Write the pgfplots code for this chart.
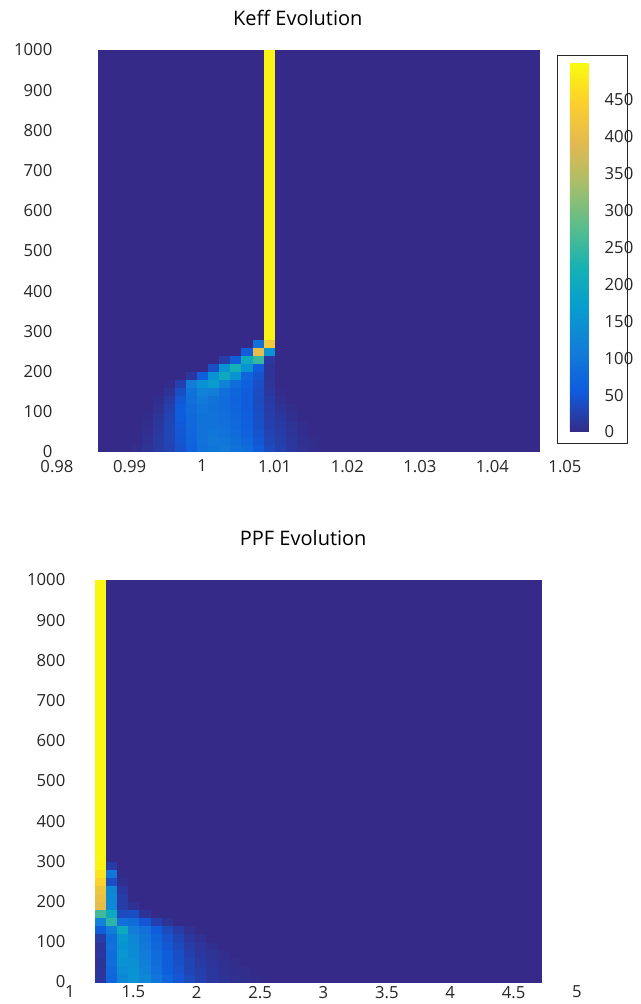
\documentclass[border=0pt]{standalone}
\usepackage{fontspec}
\setmainfont{Open Sans}
\usepackage{pgfplots}
\pgfplotsset{compat=1.18}
\definecolor{ticktext}{RGB}{38,38,38}
\pgfplotsset{
  colormap={parula}{rgb255=(53,42,135) rgb255=(15,92,221) rgb255=(18,125,216)
    rgb255=(7,156,207) rgb255=(21,177,180) rgb255=(89,189,140)
    rgb255=(165,190,107) rgb255=(225,185,82) rgb255=(252,206,46)
    rgb255=(249,251,14)},
  heat/.style={
    scale only axis, anchor=south west,
    height=301.5pt, ymin=0, ymax=1000, ytick={0,100,...,1000},
    axis line style={draw=none}, major tick length=0pt,
    tick label style={font=\fontsize{12.5}{13}\selectfont, text=ticktext},
    /pgf/number format/assume math mode=true,
    /pgf/number format/1000 sep={},
    title style={font=\fontsize{15}{17}\selectfont, anchor=center},
    colormap name=parula, point meta min=0, point meta max=500,
  },
}
\begin{document}
\begin{tikzpicture}
\useasboundingbox (0,0) rectangle (480.75pt,753pt);

% Keff: lattice of cell edges, value at lower-left corner of each cell
\begin{axis}[heat,
  at={(42.75pt,414pt)}, width=381pt,
  xmin=0.98, xmax=1.05,
  xtick={0.98,0.99,1,1.01,1.02,1.03,1.04,1.05},
  xticklabels={0.98,0.99,1,1.01,1.02,1.03,1.04,1.05},
  xticklabel style={yshift=-2.5pt},
  title={Keff Evolution}, title style={at={(0.474,1)}, yshift=18pt},
  colorbar,
  colorbar style={
    at={(parent axis.north east)}, anchor=north west,
    xshift=-4.8pt, yshift=-9.75pt,
    scale only axis, width=22.5pt, height=276.75pt,
    ytick={0,50,...,450}, axis line style={draw=none}, major tick length=0pt,
    /pgf/number format/assume math mode=true,
    yticklabel style={font=\fontsize{12.5}{13}\selectfont, text=ticktext},
  },
]
\addplot[surf, shader=flat corner, point meta=explicit, mesh/cols=21] coordinates {
(0.9857,0)[0] (0.99026,0)[3] (0.99178,0)[10] (0.9933,0)[18] (0.99482,0)[28] (0.99634,0)[45] (0.99786,0)[65] (0.99938,0)[90] (1.0009,0)[100] (1.00242,0)[105] (1.00394,0)[95] (1.00546,0)[80] (1.00698,0)[55] (1.0085,0)[35] (1.01002,0)[25] (1.01154,0)[15] (1.01306,0)[8] (1.01458,0)[4] (1.0161,0)[0] (1.01762,0)[0] (1.0465,0)[0]
(0.9857,20)[0] (0.99026,20)[0] (0.99178,20)[8] (0.9933,20)[18] (0.99482,20)[30] (0.99634,20)[48] (0.99786,20)[70] (0.99938,20)[95] (1.0009,20)[105] (1.00242,20)[100] (1.00394,20)[88] (1.00546,20)[72] (1.00698,20)[50] (1.0085,20)[30] (1.01002,20)[22] (1.01154,20)[14] (1.01306,20)[6] (1.01458,20)[3] (1.0161,20)[0] (1.01762,20)[0] (1.0465,20)[0]
(0.9857,40)[0] (0.99026,40)[0] (0.99178,40)[6] (0.9933,40)[16] (0.99482,40)[30] (0.99634,40)[50] (0.99786,40)[72] (0.99938,40)[95] (1.0009,40)[100] (1.00242,40)[95] (1.00394,40)[82] (1.00546,40)[66] (1.00698,40)[45] (1.0085,40)[28] (1.01002,40)[20] (1.01154,40)[12] (1.01306,40)[5] (1.01458,40)[0] (1.0161,40)[0] (1.01762,40)[0] (1.0465,40)[0]
(0.9857,60)[0] (0.99026,60)[0] (0.99178,60)[4] (0.9933,60)[14] (0.99482,60)[30] (0.99634,60)[52] (0.99786,60)[75] (0.99938,60)[92] (1.0009,60)[95] (1.00242,60)[90] (1.00394,60)[78] (1.00546,60)[62] (1.00698,60)[42] (1.0085,60)[25] (1.01002,60)[18] (1.01154,60)[10] (1.01306,60)[3] (1.01458,60)[0] (1.0161,60)[0] (1.01762,60)[0] (1.0465,60)[0]
(0.9857,80)[0] (0.99026,80)[0] (0.99178,80)[2] (0.9933,80)[12] (0.99482,80)[28] (0.99634,80)[55] (0.99786,80)[78] (0.99938,80)[95] (1.0009,80)[92] (1.00242,80)[86] (1.00394,80)[74] (1.00546,80)[60] (1.00698,80)[40] (1.0085,80)[22] (1.01002,80)[15] (1.01154,80)[6] (1.01306,80)[0] (1.01458,80)[0] (1.0161,80)[0] (1.01762,80)[0] (1.0465,80)[0]
(0.9857,100)[0] (0.99026,100)[0] (0.99178,100)[0] (0.9933,100)[8] (0.99482,100)[24] (0.99634,100)[55] (0.99786,100)[82] (0.99938,100)[98] (1.0009,100)[90] (1.00242,100)[82] (1.00394,100)[70] (1.00546,100)[56] (1.00698,100)[38] (1.0085,100)[20] (1.01002,100)[10] (1.01154,100)[3] (1.01306,100)[0] (1.01458,100)[0] (1.0161,100)[0] (1.01762,100)[0] (1.0465,100)[0]
(0.9857,120)[0] (0.99026,120)[0] (0.99178,120)[0] (0.9933,120)[4] (0.99482,120)[18] (0.99634,120)[50] (0.99786,120)[88] (0.99938,120)[108] (1.0009,120)[95] (1.00242,120)[82] (1.00394,120)[68] (1.00546,120)[56] (1.00698,120)[36] (1.0085,120)[18] (1.01002,120)[6] (1.01154,120)[0] (1.01306,120)[0] (1.01458,120)[0] (1.0161,120)[0] (1.01762,120)[0] (1.0465,120)[0]
(0.9857,140)[0] (0.99026,140)[0] (0.99178,140)[0] (0.9933,140)[0] (0.99482,140)[10] (0.99634,140)[40] (0.99786,140)[95] (0.99938,140)[120] (1.0009,140)[112] (1.00242,140)[88] (1.00394,140)[70] (1.00546,140)[56] (1.00698,140)[38] (1.0085,140)[15] (1.01002,140)[2] (1.01154,140)[0] (1.01306,140)[0] (1.01458,140)[0] (1.0161,140)[0] (1.01762,140)[0] (1.0465,140)[0]
(0.9857,160)[0] (0.99026,160)[0] (0.99178,160)[0] (0.9933,160)[0] (0.99482,160)[2] (0.99634,160)[25] (0.99786,160)[110] (0.99938,160)[150] (1.0009,160)[170] (1.00242,160)[120] (1.00394,160)[85] (1.00546,160)[62] (1.00698,160)[40] (1.0085,160)[12] (1.01002,160)[0] (1.01154,160)[0] (1.01306,160)[0] (1.01458,160)[0] (1.0161,160)[0] (1.01762,160)[0] (1.0465,160)[0]
(0.9857,180)[0] (0.99026,180)[0] (0.99178,180)[0] (0.9933,180)[0] (0.99482,180)[0] (0.99634,180)[0] (0.99786,180)[15] (0.99938,180)[60] (1.0009,180)[150] (1.00242,180)[200] (1.00394,180)[150] (1.00546,180)[70] (1.00698,180)[45] (1.0085,180)[10] (1.01002,180)[0] (1.01154,180)[0] (1.01306,180)[0] (1.01458,180)[0] (1.0161,180)[0] (1.01762,180)[0] (1.0465,180)[0]
(0.9857,200)[0] (0.99026,200)[0] (0.99178,200)[0] (0.9933,200)[0] (0.99482,200)[0] (0.99634,200)[0] (0.99786,200)[0] (0.99938,200)[0] (1.0009,200)[40] (1.00242,200)[150] (1.00394,200)[220] (1.00546,200)[150] (1.00698,200)[55] (1.0085,200)[10] (1.01002,200)[0] (1.01154,200)[0] (1.01306,200)[0] (1.01458,200)[0] (1.0161,200)[0] (1.01762,200)[0] (1.0465,200)[0]
(0.9857,220)[0] (0.99026,220)[0] (0.99178,220)[0] (0.9933,220)[0] (0.99482,220)[0] (0.99634,220)[0] (0.99786,220)[0] (0.99938,220)[0] (1.0009,220)[0] (1.00242,220)[20] (1.00394,220)[60] (1.00546,220)[200] (1.00698,220)[250] (1.0085,220)[15] (1.01002,220)[0] (1.01154,220)[0] (1.01306,220)[0] (1.01458,220)[0] (1.0161,220)[0] (1.01762,220)[0] (1.0465,220)[0]
(0.9857,240)[0] (0.99026,240)[0] (0.99178,240)[0] (0.9933,240)[0] (0.99482,240)[0] (0.99634,240)[0] (0.99786,240)[0] (0.99938,240)[0] (1.0009,240)[0] (1.00242,240)[0] (1.00394,240)[0] (1.00546,240)[60] (1.00698,240)[400] (1.0085,240)[150] (1.01002,240)[0] (1.01154,240)[0] (1.01306,240)[0] (1.01458,240)[0] (1.0161,240)[0] (1.01762,240)[0] (1.0465,240)[0]
(0.9857,260)[0] (0.99026,260)[0] (0.99178,260)[0] (0.9933,260)[0] (0.99482,260)[0] (0.99634,260)[0] (0.99786,260)[0] (0.99938,260)[0] (1.0009,260)[0] (1.00242,260)[0] (1.00394,260)[0] (1.00546,260)[0] (1.00698,260)[90] (1.0085,260)[430] (1.01002,260)[0] (1.01154,260)[0] (1.01306,260)[0] (1.01458,260)[0] (1.0161,260)[0] (1.01762,260)[0] (1.0465,260)[0]
(0.9857,280)[0] (0.99026,280)[0] (0.99178,280)[0] (0.9933,280)[0] (0.99482,280)[0] (0.99634,280)[0] (0.99786,280)[0] (0.99938,280)[0] (1.0009,280)[0] (1.00242,280)[0] (1.00394,280)[0] (1.00546,280)[0] (1.00698,280)[0] (1.0085,280)[490] (1.01002,280)[0] (1.01154,280)[0] (1.01306,280)[0] (1.01458,280)[0] (1.0161,280)[0] (1.01762,280)[0] (1.0465,280)[0]
(0.9857,1000)[0] (0.99026,1000)[0] (0.99178,1000)[0] (0.9933,1000)[0] (0.99482,1000)[0] (0.99634,1000)[0] (0.99786,1000)[0] (0.99938,1000)[0] (1.0009,1000)[0] (1.00242,1000)[0] (1.00394,1000)[0] (1.00546,1000)[0] (1.00698,1000)[0] (1.0085,1000)[0] (1.01002,1000)[0] (1.01154,1000)[0] (1.01306,1000)[0] (1.01458,1000)[0] (1.0161,1000)[0] (1.01762,1000)[0] (1.0465,1000)[0]
};
\end{axis}
\draw[black!85, line width=0.6pt] (417.75pt,420.75pt) rectangle (470.25pt,711.75pt);

% PPF
\begin{axis}[heat,
  at={(52.5pt,16.5pt)}, width=380.25pt,
  xmin=1, xmax=5,
  xtick={1,1.5,2,2.5,3,3.5,4,4.5,5},
  xticklabels={1,1.5,2,2.5,3,3.5,4,4.5,5},
  xticklabel style={yshift=0.5pt},
  title={PPF Evolution}, title style={at={(0.46,1)}, yshift=25.5pt},
]
\addplot[surf, shader=flat corner, point meta=explicit, mesh/cols=17] coordinates {
(1.197,0)[15] (1.2851,0)[70] (1.3732,0)[130] (1.4613,0)[150] (1.5494,0)[130] (1.6375,0)[100] (1.7256,0)[70] (1.8137,0)[50] (1.9018,0)[35] (1.9899,0)[25] (2.078,0)[15] (2.1661,0)[10] (2.2542,0)[6] (2.3423,0)[4] (2.4304,0)[2] (2.5185,0)[0] (4.721,0)[0]
(1.197,20)[12] (1.2851,20)[75] (1.3732,20)[140] (1.4613,20)[150] (1.5494,20)[120] (1.6375,20)[90] (1.7256,20)[60] (1.8137,20)[45] (1.9018,20)[30] (1.9899,20)[22] (2.078,20)[14] (2.1661,20)[8] (2.2542,20)[5] (2.3423,20)[3] (2.4304,20)[0] (2.5185,20)[0] (4.721,20)[0]
(1.197,40)[10] (1.2851,40)[85] (1.3732,40)[150] (1.4613,40)[145] (1.5494,40)[115] (1.6375,40)[85] (1.7256,40)[58] (1.8137,40)[42] (1.9018,40)[28] (1.9899,40)[18] (2.078,40)[12] (2.1661,40)[6] (2.2542,40)[3] (2.3423,40)[0] (2.4304,40)[0] (2.5185,40)[0] (4.721,40)[0]
(1.197,60)[15] (1.2851,60)[80] (1.3732,60)[155] (1.4613,60)[140] (1.5494,60)[110] (1.6375,60)[80] (1.7256,60)[55] (1.8137,60)[40] (1.9018,60)[25] (1.9899,60)[15] (2.078,60)[10] (2.1661,60)[4] (2.2542,60)[0] (2.3423,60)[0] (2.4304,60)[0] (2.5185,60)[0] (4.721,60)[0]
(1.197,80)[12] (1.2851,80)[90] (1.3732,80)[150] (1.4613,80)[135] (1.5494,80)[105] (1.6375,80)[75] (1.7256,80)[50] (1.8137,80)[35] (1.9018,80)[20] (1.9899,80)[12] (2.078,80)[6] (2.1661,80)[0] (2.2542,80)[0] (2.3423,80)[0] (2.4304,80)[0] (2.5185,80)[0] (4.721,80)[0]
(1.197,100)[20] (1.2851,100)[85] (1.3732,100)[160] (1.4613,100)[130] (1.5494,100)[100] (1.6375,100)[70] (1.7256,100)[45] (1.8137,100)[30] (1.9018,100)[15] (1.9899,100)[8] (2.078,100)[0] (2.1661,100)[0] (2.2542,100)[0] (2.3423,100)[0] (2.4304,100)[0] (2.5185,100)[0] (4.721,100)[0]
(1.197,120)[60] (1.2851,120)[110] (1.3732,120)[200] (1.4613,120)[110] (1.5494,120)[90] (1.6375,120)[55] (1.7256,120)[35] (1.8137,120)[20] (1.9018,120)[8] (1.9899,120)[0] (2.078,120)[0] (2.1661,120)[0] (2.2542,120)[0] (2.3423,120)[0] (2.4304,120)[0] (2.5185,120)[0] (4.721,120)[0]
(1.197,140)[120] (1.2851,140)[240] (1.3732,140)[90] (1.4613,140)[80] (1.5494,140)[50] (1.6375,140)[25] (1.7256,140)[10] (1.8137,140)[0] (1.9018,140)[0] (1.9899,140)[0] (2.078,140)[0] (2.1661,140)[0] (2.2542,140)[0] (2.3423,140)[0] (2.4304,140)[0] (2.5185,140)[0] (4.721,140)[0]
(1.197,160)[260] (1.2851,160)[200] (1.3732,160)[35] (1.4613,160)[40] (1.5494,160)[10] (1.6375,160)[0] (1.7256,160)[0] (1.8137,160)[0] (1.9018,160)[0] (1.9899,160)[0] (2.078,160)[0] (2.1661,160)[0] (2.2542,160)[0] (2.3423,160)[0] (2.4304,160)[0] (2.5185,160)[0] (4.721,160)[0]
(1.197,180)[400] (1.2851,180)[130] (1.3732,180)[20] (1.4613,180)[8] (1.5494,180)[0] (1.6375,180)[0] (1.7256,180)[0] (1.8137,180)[0] (1.9018,180)[0] (1.9899,180)[0] (2.078,180)[0] (2.1661,180)[0] (2.2542,180)[0] (2.3423,180)[0] (2.4304,180)[0] (2.5185,180)[0] (4.721,180)[0]
(1.197,200)[410] (1.2851,200)[130] (1.3732,200)[20] (1.4613,200)[0] (1.5494,200)[0] (1.6375,200)[0] (1.7256,200)[0] (1.8137,200)[0] (1.9018,200)[0] (1.9899,200)[0] (2.078,200)[0] (2.1661,200)[0] (2.2542,200)[0] (2.3423,200)[0] (2.4304,200)[0] (2.5185,200)[0] (4.721,200)[0]
(1.197,220)[420] (1.2851,220)[125] (1.3732,220)[15] (1.4613,220)[0] (1.5494,220)[0] (1.6375,220)[0] (1.7256,220)[0] (1.8137,220)[0] (1.9018,220)[0] (1.9899,220)[0] (2.078,220)[0] (2.1661,220)[0] (2.2542,220)[0] (2.3423,220)[0] (2.4304,220)[0] (2.5185,220)[0] (4.721,220)[0]
(1.197,240)[450] (1.2851,240)[40] (1.3732,240)[5] (1.4613,240)[0] (1.5494,240)[0] (1.6375,240)[0] (1.7256,240)[0] (1.8137,240)[0] (1.9018,240)[0] (1.9899,240)[0] (2.078,240)[0] (2.1661,240)[0] (2.2542,240)[0] (2.3423,240)[0] (2.4304,240)[0] (2.5185,240)[0] (4.721,240)[0]
(1.197,260)[470] (1.2851,260)[100] (1.3732,260)[0] (1.4613,260)[0] (1.5494,260)[0] (1.6375,260)[0] (1.7256,260)[0] (1.8137,260)[0] (1.9018,260)[0] (1.9899,260)[0] (2.078,260)[0] (2.1661,260)[0] (2.2542,260)[0] (2.3423,260)[0] (2.4304,260)[0] (2.5185,260)[0] (4.721,260)[0]
(1.197,280)[490] (1.2851,280)[20] (1.3732,280)[0] (1.4613,280)[0] (1.5494,280)[0] (1.6375,280)[0] (1.7256,280)[0] (1.8137,280)[0] (1.9018,280)[0] (1.9899,280)[0] (2.078,280)[0] (2.1661,280)[0] (2.2542,280)[0] (2.3423,280)[0] (2.4304,280)[0] (2.5185,280)[0] (4.721,280)[0]
(1.197,300)[495] (1.2851,300)[0] (1.3732,300)[0] (1.4613,300)[0] (1.5494,300)[0] (1.6375,300)[0] (1.7256,300)[0] (1.8137,300)[0] (1.9018,300)[0] (1.9899,300)[0] (2.078,300)[0] (2.1661,300)[0] (2.2542,300)[0] (2.3423,300)[0] (2.4304,300)[0] (2.5185,300)[0] (4.721,300)[0]
(1.197,1000)[0] (1.2851,1000)[0] (1.3732,1000)[0] (1.4613,1000)[0] (1.5494,1000)[0] (1.6375,1000)[0] (1.7256,1000)[0] (1.8137,1000)[0] (1.9018,1000)[0] (1.9899,1000)[0] (2.078,1000)[0] (2.1661,1000)[0] (2.2542,1000)[0] (2.3423,1000)[0] (2.4304,1000)[0] (2.5185,1000)[0] (4.721,1000)[0]
};
\end{axis}
\end{tikzpicture}
\end{document}
